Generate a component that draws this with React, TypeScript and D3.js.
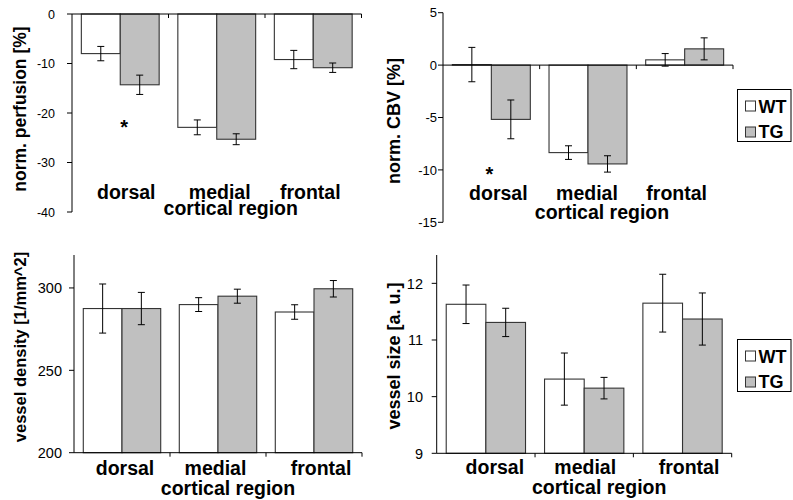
import React from "react";
import * as d3 from "d3";

// categories and groups
const categories = ["dorsal", "medial", "frontal"];
const groups = ["WT", "TG"];

// norm. perfusion [%]
const perfusionWT = [-8.0, -22.9, -9.2];
const perfusionWTErr = [1.45, 1.5, 1.85];
const perfusionTG = [-14.3, -25.3, -10.85];
const perfusionTGErr = [1.95, 1.1, 0.95];

// norm. CBV [%]
const cbvWT = [0.05, -8.35, 0.5];
const cbvWTErr = [1.64, 0.65, 0.6];
const cbvTG = [-5.18, -9.43, 1.55];
const cbvTGErr = [1.85, 0.78, 1.05];

// vessel density [1/mm^2]
const densityWT = [287.5, 289.9, 285.4];
const densityWTErr = [14.9, 4.2, 4.4];
const densityTG = [287.5, 295.0, 299.5];
const densityTGErr = [9.8, 4.25, 5.0];

// vessel size [a. u.]
const sizeWT = [11.63, 10.31, 11.65];
const sizeWTErr = [0.34, 0.46, 0.51];
const sizeTG = [11.31, 10.15, 11.37];
const sizeTGErr = [0.25, 0.19, 0.46];

const perfusionTicks = [-40, -30, -20, -10, 0];
const cbvTicks = [-15, -10, -5, 0, 5];
const densityTicks = [200, 250, 300];
const sizeTicks = [9, 10, 11, 12];

const FONT = "'Liberation Sans', Arial, Helvetica, sans-serif";
const fills = { WT: "#ffffff", TG: "#c0c0c0" };

function Panel(props) {
  const {
    x0, x1, yTop, yBottom, domain, ticks, base, values, errors,
    tickEnd, tickSize, yLabel, yLabelPos, yLabelSize,
    labelBase, cortBase, labelShift, cortShift, star,
  } = props;

  const y = d3.scaleLinear().domain(domain).range([yBottom, yTop]);
  const xb = d3.scaleBand().domain(categories).range([x0, x1]);
  const xs = d3.scaleBand().domain(groups).range([0, xb.bandwidth()]).paddingOuter(0.24);
  const axisY = y(base);

  return (
    <g>
      {groups.map((g, gi) =>
        categories.map((c, ci) => {
          const v = values[gi][ci];
          const bx = xb(c) + xs(g);
          return (
            <rect
              key={g + c}
              x={bx}
              y={Math.min(y(v), axisY)}
              width={xs.bandwidth()}
              height={Math.abs(y(v) - axisY)}
              fill={fills[g]}
              stroke="#333"
              strokeWidth={1.1}
            />
          );
        })
      )}
      {groups.map((g, gi) =>
        categories.map((c, ci) => {
          const v = values[gi][ci];
          const e = errors[gi][ci];
          const cx = xb(c) + xs(g) + xs.bandwidth() / 2;
          return (
            <g key={"e" + g + c} stroke="#000" strokeWidth={1}>
              <line x1={cx} x2={cx} y1={y(v + e)} y2={y(v - e)} />
              <line x1={cx - 3.5} x2={cx + 3.5} y1={y(v + e)} y2={y(v + e)} />
              <line x1={cx - 3.5} x2={cx + 3.5} y1={y(v - e)} y2={y(v - e)} />
            </g>
          );
        })
      )}
      {/* y axis */}
      <line x1={x0} x2={x0} y1={yTop} y2={yBottom} stroke="#000" />
      {ticks.map((t) => (
        <g key={t}>
          <line x1={x0 - 5} x2={x0} y1={y(t)} y2={y(t)} stroke="#000" />
          <text
            x={tickEnd}
            y={y(t)}
            dy="0.36em"
            textAnchor="end"
            fontFamily={FONT}
            fontSize={tickSize}
          >
            {t}
          </text>
        </g>
      ))}
      {/* x axis */}
      <line x1={x0} x2={x1} y1={axisY} y2={axisY} stroke="#000" />
      {categories.slice(1).map((c) => (
        <line key={c} x1={xb(c)} x2={xb(c)} y1={axisY} y2={axisY + 4} stroke="#000" />
      ))}
      <line x1={x1} x2={x1} y1={axisY} y2={axisY + 4} stroke="#000" />
      {categories.map((c, i) => (
        <text
          key={c}
          x={xb(c) + xb.bandwidth() / 2 + labelShift[i]}
          y={labelBase}
          textAnchor="middle"
          fontFamily={FONT}
          fontWeight="bold"
          fontSize={19.5}
        >
          {c}
        </text>
      ))}
      <text
        x={(x0 + x1) / 2 + cortShift}
        y={cortBase}
        textAnchor="middle"
        fontFamily={FONT}
        fontWeight="bold"
        fontSize={19.5}
      >
        cortical region
      </text>
      <text
        transform={`translate(${yLabelPos[0]},${yLabelPos[1]}) rotate(-90)`}
        dy="0.35em"
        textAnchor="middle"
        fontFamily={FONT}
        fontWeight="bold"
        fontSize={yLabelSize}
      >
        {yLabel}
      </text>
      {star && (
        <text
          x={xb(star.cat) + xb.bandwidth() / 2 + star.dx}
          y={star.y}
          textAnchor="middle"
          fontFamily={FONT}
          fontWeight="bold"
          fontSize={20}
        >
          *
        </text>
      )}
    </g>
  );
}

function Legend({ left, top, right, bottom }) {
  return (
    <g fontFamily={FONT} fontWeight="bold" fontSize={18}>
      <rect x={left} y={top} width={right - left} height={bottom - top} fill="#fff" stroke="#000" />
      {groups.map((g, i) => (
        <g key={g}>
          <rect
            x={left + 8}
            y={top + 11.5 + i * 26}
            width={10}
            height={10}
            fill={fills[g]}
            stroke="#333"
          />
          <text x={left + 21} y={top + 23.5 + i * 25}>
            {g}
          </text>
        </g>
      ))}
    </g>
  );
}

export default function App() {
  return (
    <svg
      width={793}
      height={500}
      style={{ position: "absolute", left: 0, top: 0, background: "#fff" }}
    >
      <rect width={793} height={500} fill="#fff" />
      <Panel
        x0={72} x1={361.5} yTop={14} yBottom={212}
        domain={[-40, 0]} ticks={perfusionTicks} base={0}
        values={[perfusionWT, perfusionTG]} errors={[perfusionWTErr, perfusionTGErr]}
        tickEnd={55} tickSize={12.5}
        yLabel="norm. perfusion [%]" yLabelPos={[20, 109]} yLabelSize={17.5}
        labelBase={198.5} cortBase={215} labelShift={[6, 3, -3]} cortShift={14}
        star={{ cat: "dorsal", dx: 4, y: 134 }}
      />
      <Panel
        x0={443} x1={733} yTop={12.7} yBottom={222.3}
        domain={[-15, 5]} ticks={cbvTicks} base={0}
        values={[cbvWT, cbvTG]} errors={[cbvWTErr, cbvTGErr]}
        tickEnd={437} tickSize={13}
        yLabel="norm. CBV [%]" yLabelPos={[394, 121]} yLabelSize={18}
        labelBase={200} cortBase={218.5} labelShift={[7, -1, -8]} cortShift={14}
        star={{ cat: "dorsal", dx: -2, y: 180.5 }}
      />
      <Legend left={737.5} top={89.5} right={791} bottom={141.5} />
      <Panel
        x0={74} x1={362} yTop={255} yBottom={452.7}
        domain={[200, 320]} ticks={densityTicks} base={200}
        values={[densityWT, densityTG]} errors={[densityWTErr, densityTGErr]}
        tickEnd={62} tickSize={14.5}
        yLabel="vessel density [1/mm^2]" yLabelPos={[20, 347]} yLabelSize={16.5}
        labelBase={475} cortBase={494.5} labelShift={[3, -2.5, 7]} cortShift={10}
      />
      <Panel
        x0={436.7} x1={731.7} yTop={255} yBottom={453.3}
        domain={[9, 12.5]} ticks={sizeTicks} base={9}
        values={[sizeWT, sizeTG]} errors={[sizeWTErr, sizeTGErr]}
        tickEnd={423} tickSize={14.5}
        yLabel="vessel size [a. u.]" yLabelPos={[394, 356]} yLabelSize={18}
        labelBase={474} cortBase={494} labelShift={[9, 1, 6.5]} cortShift={15}
      />
      <Legend left={737.5} top={339.5} right={791} bottom={391.5} />
    </svg>
  );
}
